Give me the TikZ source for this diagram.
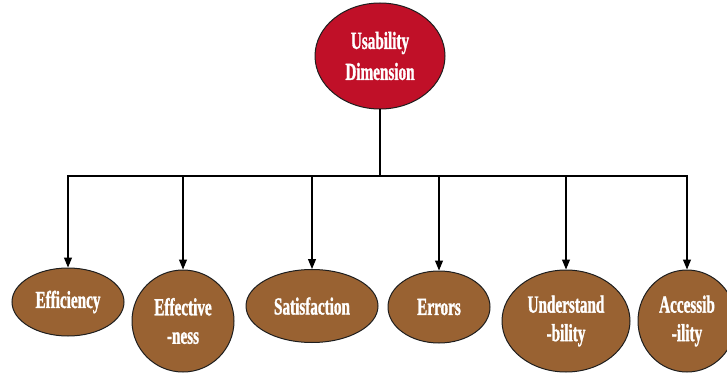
\documentclass[tikz,border=0pt]{standalone}
\usepackage{fontspec}
\setmainfont{Liberation Serif}
\newfontfamily\lblfont[FakeStretch=0.62,FakeBold=1.2]{Liberation Serif}
\usetikzlibrary{shapes.geometric,arrows.meta}
\definecolor{topred}{RGB}{192,16,40}
\definecolor{leafbrown}{RGB}{153,98,50}
\definecolor{edgedark}{RGB}{30,30,30}
\tikzset{
  ell/.style={ellipse, draw=edgedark, line width=1pt, inner sep=0pt, align=center,
    text=white, font=\lblfont\bfseries\fontsize{24.5}{28.5}\selectfont},
  topnode/.style={ell, fill=topred, font=\lblfont\bfseries\fontsize{24.5}{31}\selectfont},
  leaf/.style={ell, fill=leafbrown},
  conn/.style={line width=1.1pt, draw=black},
  arr/.style={conn, -{Triangle[length=10pt,width=8pt]}}
}
\begin{document}
\begin{tikzpicture}[x=1pt,y=-1pt]
\useasboundingbox (0,0) rectangle (727,374);
\node[topnode, minimum width=130pt, minimum height=106pt] (top) at (380,56) {Usability\\Dimension};
\node[leaf, minimum width=112pt, minimum height=68pt] (n1) at (68,302) {Efficiency};
\node[leaf, minimum width=102pt, minimum height=102pt] (n2) at (183,321) {Effective\\-ness};
\node[leaf, minimum width=132pt, minimum height=73pt] (n3) at (312,306) {Satisfaction};
\node[leaf, minimum width=102pt, minimum height=72pt] (n4) at (439,307) {Errors};
\node[leaf, minimum width=128pt, minimum height=102pt] (n5) at (566,321) {Understand\\-bility};
\node[leaf, minimum width=98pt, minimum height=102pt] (n6) at (687,321) {Accessib\\-ility};
\coordinate (bus) at (380,176);
\draw[conn] (top.south) -- (bus);
\foreach \n in {n1,n2,n3,n4,n5,n6} {
  \draw[arr] (bus) -| (\n.north);
}
\end{tikzpicture}
\end{document}
